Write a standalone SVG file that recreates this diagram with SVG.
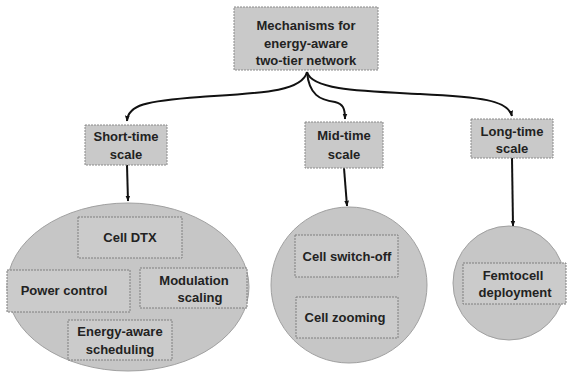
<svg xmlns="http://www.w3.org/2000/svg" width="567" height="373" viewBox="0 0 567 373">
<defs>
<marker id="ah" viewBox="0 0 10 10" refX="9" refY="5" markerWidth="6" markerHeight="6" orient="auto" markerUnits="userSpaceOnUse">
<path d="M0,1 L10,5 L0,9 z" fill="#111"/>
</marker>
</defs>
<style>
.box{fill:#c9c9c9;stroke:#8a8a8a;stroke-width:1;stroke-dasharray:2 1}
.inner{fill:#cbcbcb;stroke:#7e7e7e;stroke-width:1;stroke-dasharray:2 1}
.ell{fill:#c6c6c6;stroke:#a0a0a0;stroke-width:1}
.t{font-family:"Liberation Sans",Arial,sans-serif;font-weight:bold;font-size:13px;fill:#222;text-anchor:middle}
.c{fill:none;stroke:#111;stroke-width:2}
</style>
<rect width="567" height="373" fill="#fff"/>
<g id="connectors">
<path class="c" d="M307,72 C302,92 260,93 200,97 C145,101 128,105 127,121" marker-end="url(#ah)"/>
<path class="c" d="M307,72 C309,95 320,100 335,102 C343,104 345,108 345,119" marker-end="url(#ah)"/>
<path class="c" d="M307,72 C312,90 360,91 420,94 C480,97 508,100 512,116" marker-end="url(#ah)"/>
<path class="c" d="M127,165 L128,201" marker-end="url(#ah)"/>
<path class="c" d="M344,168 L347,206" marker-end="url(#ah)"/>
<path class="c" d="M512,158 L513,226" marker-end="url(#ah)"/>
</g>
<g id="root">
<rect class="box" x="234" y="7" width="144" height="63"/>
<text class="t" x="306" y="30">Mechanisms for</text>
<text class="t" x="306" y="48">energy-aware</text>
<text class="t" x="306" y="65">two-tier network</text>
</g>
<g id="short">
<rect class="box" x="85" y="125" width="82" height="40"/>
<text class="t" x="126" y="141">Short-time</text>
<text class="t" x="126" y="159">scale</text>
</g>
<g id="mid">
<rect class="box" x="305" y="122" width="78" height="46"/>
<text class="t" x="344" y="140">Mid-time</text>
<text class="t" x="344" y="159">scale</text>
</g>
<g id="long">
<rect class="box" x="471" y="119" width="82" height="39"/>
<text class="t" x="512" y="136">Long-time</text>
<text class="t" x="512" y="153">scale</text>
</g>
<g id="short-group">
<ellipse class="ell" cx="128" cy="287" rx="121" ry="84"/>
</g>
<g id="cell-dtx">
<rect class="inner" x="78" y="217" width="104" height="41"/>
<text class="t" x="130" y="242">Cell DTX</text>
</g>
<g id="power-control">
<rect class="inner" x="7" y="270" width="123" height="42"/>
<text class="t" x="64" y="295">Power control</text>
</g>
<g id="modulation-scaling">
<rect class="inner" x="140" y="268" width="107" height="40"/>
<text class="t" x="194" y="285">Modulation</text>
<text class="t" x="200" y="302">scaling</text>
</g>
<g id="energy-aware-scheduling">
<rect class="inner" x="68" y="320" width="104" height="40"/>
<text class="t" x="120" y="336">Energy-aware</text>
<text class="t" x="120" y="354">scheduling</text>
</g>
<g id="mid-group">
<ellipse class="ell" cx="349" cy="285" rx="78" ry="78"/>
</g>
<g id="cell-switch-off">
<rect class="inner" x="295" y="235" width="103" height="42"/>
<text class="t" x="347" y="261">Cell switch-off</text>
</g>
<g id="cell-zooming">
<rect class="inner" x="296" y="297" width="102" height="41"/>
<text class="t" x="345" y="322">Cell zooming</text>
</g>
<g id="long-group">
<ellipse class="ell" cx="509" cy="283" rx="56" ry="57"/>
</g>
<g id="femtocell">
<rect class="inner" x="463" y="263" width="103" height="41"/>
<text class="t" x="513" y="280">Femtocell</text>
<text class="t" x="515" y="297">deployment</text>
</g>
</svg>
